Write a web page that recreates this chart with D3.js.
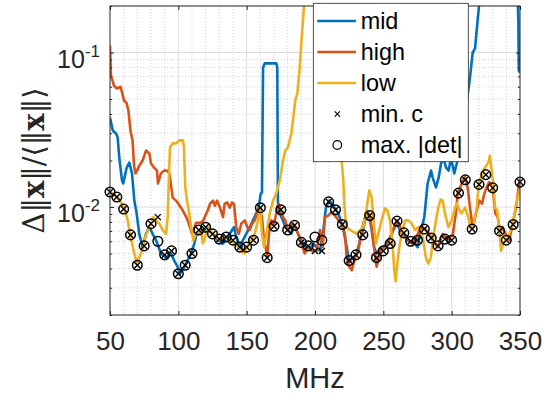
<!DOCTYPE html>
<html lang="en">
<head>
<meta charset="UTF-8">
<title>Relative deviation vs frequency</title>
<script src="https://cdn.jsdelivr.net/npm/d3@7/dist/d3.min.js"></script>
<style>
  body { margin: 0; background: #fff; }
  svg { display: block; font-family: "Liberation Sans", Arial, sans-serif; }
</style>
</head>
<body>
<svg id="chart" width="557" height="394"></svg>
<script>
// series: [MHz, value]
const midData = [
  [50,0.038],[52,0.0313],[54.4,0.0299],[55.6,0.0282],[56.8,0.0209],[58.8,0.0148],[59.7,0.0142],[62.2,0.018],[64.1,0.0194],[66.1,0.0165],[67.8,0.011],[69.5,0.0091],[71.4,0.0067],[73.9,0.0055],[76.3,0.0067],[78.8,0.0074],[81.2,0.0067],[83.7,0.0061],[87.3,0.005],[91,0.0047],[94.6,0.005],[97,0.0045],[99.5,0.0041],[101.2,0.0037],[104.4,0.0041],[105.6,0.0043],[109.3,0.005],[111.7,0.0058],[113.4,0.0067],[117.8,0.0071],[121.7,0.0071],[125.4,0.0067],[129,0.0061],[132.7,0.0058],[136.3,0.0064],[139.3,0.0071],[140.7,0.0074],[142.4,0.0064],[144.9,0.0055],[147.3,0.0061],[149.7,0.0067],[152.2,0.0074],[154.6,0.0082],[157,0.0091],[158.8,0.0099],[160.3,0.0122],[161.2,0.0124],[162,0.08],[163.2,0.085],[171.7,0.085],[172.4,0.08],[172.9,0.0099],[174.2,0.0091],[176.6,0.0082],[178.3,0.0074],[180.2,0.0071],[182.7,0.0067],[184.6,0.0076],[186.3,0.0071],[188.8,0.0064],[191.2,0.0058],[193.6,0.0055],[197.3,0.0055],[198.8,0.0058],[203.7,0.0052],[206.1,0.0071],[208,0.0099],[210.5,0.011],[213.4,0.0102],[215.1,0.0096],[217,0.0091],[219.9,0.0077],[221.4,0.0067],[223.2,0.0055],[225.1,0.0044],[227.6,0.0047],[230,0.0049],[231.7,0.0055],[233.4,0.0064],[235.3,0.0071],[237.8,0.0095],[239.7,0.0088],[241.5,0.0071],[243.2,0.0055],[245.1,0.005],[247.6,0.0054],[250,0.0055],[252.5,0.0058],[254.9,0.0064],[257.4,0.0071],[259.8,0.0078],[262.2,0.0071],[265.1,0.0067],[267.5,0.0061],[270,0.0059],[273.2,0.0058],[275.1,0.0055],[277.6,0.0071],[280,0.0086],[282.4,0.0142],[284.9,0.0172],[286.1,0.0155],[288.5,0.0134],[290.5,0.0155],[292.2,0.0191],[293.9,0.0209],[295.9,0.018],[297.8,0.0172],[299.5,0.0209],[301.9,0.0165],[303.7,0.0191],[305.6,0.0232],[307.6,0.0299],[309.8,0.039],[311.2,0.049],[313.4,0.069],[315.4,0.1],[317.1,0.106],[318.3,0.139],[320,0.2],[321.5,0.3],[347.8,0.3],[348.8,0.161],[349.1,0.0765],[350,0.074]
];
const highData = [
  [50,0.111],[50.7,0.071],[52.9,0.061],[55.1,0.0585],[57.7,0.06],[59.1,0.054],[60.2,0.049],[62.1,0.047],[63.5,0.042],[65,0.031],[66.5,0.027],[67.6,0.0185],[68.7,0.0165],[69.8,0.0172],[71.4,0.0185],[73.9,0.02],[76.3,0.0232],[78.8,0.0222],[80,0.0191],[82.2,0.018],[84.4,0.0172],[85.1,0.0142],[87.3,0.0165],[89.5,0.0172],[91.7,0.0172],[93.4,0.0165],[95.9,0.0115],[98.3,0.011],[102,0.0099],[104.4,0.0091],[106.9,0.0082],[110,0.0067],[112.9,0.0079],[115.9,0.0079],[118,0.0081],[121.5,0.0095],[123.2,0.0105],[125.4,0.011],[126.8,0.0102],[128.3,0.011],[130.5,0.0099],[132.7,0.0086],[133.9,0.0105],[135.8,0.0107],[137.6,0.0099],[139.3,0.0107],[140.7,0.0105],[142.4,0.0074],[144.2,0.0067],[146.1,0.0078],[148.6,0.0082],[150.5,0.0074],[152.2,0.0071],[153.9,0.0078],[155.9,0.0082],[157.8,0.0091],[159.5,0.0099],[161.2,0.0086],[162.7,0.0061],[164.4,0.0052],[165.1,0.0047],[166.3,0.0067],[168,0.0082],[170,0.0078],[171.7,0.0091],[173.4,0.0105],[174.9,0.0096],[176.6,0.0086],[178.3,0.0082],[179.7,0.0071],[181.5,0.0074],[183.9,0.0078],[185.6,0.0074],[187.6,0.0067],[190,0.0058],[192.5,0.005],[194.9,0.0055],[197.3,0.0052],[201.2,0.0052],[203.7,0.0071],[205.6,0.0055],[207.3,0.0086],[209.7,0.0088],[212.2,0.0093],[214.6,0.0088],[217,0.0082],[219.5,0.0078],[221.9,0.0067],[223.2,0.0047],[225.1,0.0041],[226.9,0.0039],[229.3,0.0047],[231.7,0.0052],[233.4,0.0064],[235.3,0.0078],[237.8,0.0093],[239.7,0.0088],[241.5,0.0074],[243.2,0.0055],[245.1,0.0041],[247.6,0.0052],[250.5,0.0055],[252.9,0.0058],[255.4,0.0064],[257.8,0.0074],[259.8,0.0082],[261.7,0.0078],[263.4,0.0067],[265.9,0.0064],[268.3,0.0061],[270.8,0.0058],[272.7,0.0058],[276.3,0.0071],[280,0.0073],[283.6,0.0067],[286.1,0.0061],[289.8,0.0055],[293.4,0.0067],[297.1,0.0062],[300.8,0.0066],[303.2,0.0093],[304.4,0.0122],[308.1,0.0148],[309.8,0.0156],[311.7,0.0134],[313.4,0.0099],[315.4,0.0073],[317.8,0.0091],[320.2,0.011],[322.2,0.0105],[323.9,0.0122],[325.6,0.0134],[327.5,0.0145],[330,0.0134],[331.9,0.0091],[333.7,0.0086],[335.4,0.0069],[337.3,0.0074],[339.8,0.0066],[342.2,0.0061],[344.1,0.0074],[347.1,0.0099],[349.5,0.0145],[350,0.015]
];
const lowData = [
  [50,0.0124],[52.2,0.0122],[55.1,0.0115],[57.3,0.011],[60.5,0.0098],[63,0.0082],[64.6,0.0067],[67.8,0.005],[69.8,0.0043],[71.4,0.0047],[74.4,0.0055],[75.8,0.0064],[78.8,0.0074],[80,0.0078],[81.7,0.0086],[83.7,0.0082],[86.1,0.0078],[88.6,0.0071],[91,0.0067],[92.2,0.0086],[93,0.0148],[93.9,0.0243],[95.9,0.0258],[98.3,0.0258],[100.7,0.027],[103.4,0.027],[104.1,0.0243],[105.1,0.0134],[106.3,0.011],[108,0.0091],[109.3,0.0074],[111,0.0061],[112.9,0.0067],[116.6,0.0071],[118,0.0058],[120.2,0.0067],[121.7,0.0074],[125.4,0.0067],[130.3,0.0061],[133.9,0.0063],[137.6,0.0061],[141.2,0.0058],[143.7,0.0055],[146.1,0.0052],[148,0.005],[150.5,0.0055],[153.4,0.0061],[155.9,0.0067],[158.3,0.0082],[160,0.0099],[161.2,0.0067],[162.7,0.0055],[164.4,0.0067],[166.9,0.0091],[169.3,0.011],[171.7,0.0122],[174.2,0.0148],[176.6,0.02],[178.3,0.0232],[180.2,0.0243],[182.7,0.0299],[185.6,0.049],[187.1,0.0543],[188.8,0.08],[190.5,0.133],[192,0.2],[193.4,0.3],[217.5,0.3],[219.5,0.02],[220.7,0.0148],[221.9,0.0091],[223.2,0.0074],[225.6,0.0071],[230.5,0.0067],[232.9,0.0071],[235.3,0.0074],[237.8,0.0099],[239.7,0.0128],[241.5,0.0115],[242.6,0.0086],[244.6,0.0058],[246.3,0.0067],[248.7,0.0082],[251.2,0.0098],[252.9,0.0095],[254.9,0.0082],[256.9,0.0055],[258,0.0039],[259,0.0033],[260.2,0.0043],[261.7,0.0055],[263.4,0.0067],[265.9,0.0082],[268.3,0.0082],[270.8,0.0078],[273.2,0.0071],[275.6,0.0074],[277.3,0.0071],[279.2,0.0061],[281.2,0.0047],[282.9,0.0043],[284.7,0.0047],[286.6,0.0064],[288.5,0.0082],[290.2,0.0099],[292,0.0112],[293.4,0.011],[295.1,0.0091],[297.6,0.0074],[300,0.0082],[302.4,0.0098],[303.7,0.0106],[305.6,0.0096],[307.3,0.0091],[309.8,0.0099],[312.2,0.0086],[313.9,0.0073],[315.9,0.0076],[318.3,0.0099],[320.2,0.0148],[322,0.016],[324.4,0.018],[326.8,0.0194],[328,0.0215],[329.3,0.0172],[330.5,0.0142],[331.7,0.0099],[333.4,0.0095],[334.9,0.0071],[336.1,0.0052],[337.8,0.0058],[339.8,0.0061],[342.2,0.0067],[344.7,0.0077],[347.1,0.0104],[349.5,0.0127],[350,0.013]
];

// marker positions (every 5 MHz)
const markerFreqs = [50,55,60,65,70,75,80,85,90,95,100,105,110,115,120,125,130,135,140,145,150,155,160,165,170,175,180,185,190,195,200,205,210,215,220,225,230,235,240,245,250,255,260,265,270,275,280,285,290,295,300,305,310,315,320,325,330,335,340,345,350];
const maxDetVals = [0.0125,0.0116,0.0097,0.0066,0.0042,0.0056,0.0078,0.006,0.0049,0.0052,0.0037,0.0042,0.005,0.0071,0.0074,0.0067,0.0062,0.0064,0.0061,0.0055,0.0055,0.0061,0.0099,0.0047,0.0075,0.0096,0.0071,0.0076,0.0059,0.0056,0.0064,0.0061,0.0108,0.0096,0.0077,0.0045,0.0049,0.0066,0.0088,0.0047,0.0052,0.0058,0.0081,0.0068,0.006,0.0061,0.0072,0.0063,0.0056,0.0062,0.0061,0.0123,0.015,0.0072,0.014,0.0162,0.0133,0.007,0.0061,0.0077,0.0145];
const minCVals   = [0.0125,0.0116,0.0097,0.0066,0.0042,0.0056,0.0078,0.0086,0.0049,0.0052,0.0037,0.0042,0.005,0.0071,0.0074,0.0067,0.0062,0.0064,0.0061,0.0055,0.0055,0.0061,0.0099,0.0047,0.0075,0.0096,0.0071,0.0076,0.0059,0.0056,0.0052,0.0052,0.0108,0.0096,0.0077,0.0045,0.0049,0.0066,0.0088,0.0047,0.0052,0.0058,0.0081,0.0068,0.006,0.0061,0.0072,0.0063,0.0056,0.0062,0.0061,0.0123,0.015,0.0072,0.014,0.0162,0.0133,0.007,0.0061,0.0077,0.0145];

const xTicks = [50,100,150,200,250,300,350];
const yTicks = [0.01, 0.1];
const yTickExps = ["-2", "-1"];
const seriesNames = ["mid", "high", "low"];
const seriesColors = ["#0072BD", "#D95319", "#EDB120"];
const markerNames = ["min. c", "max. |det|"];

const svg = d3.select("#chart");
const L = 110, R = 520, T = 6, B = 315;
const ink = "#262626";

const x = d3.scaleLinear().domain([50, 350]).range([L, R]);
const y = d3.scaleLog().domain([0.002, 0.2]).range([B, T]);

// grid
const xMinor = d3.range(60, 350, 10).filter(v => v % 50 !== 0);
const yMinor = y.ticks().filter(v => !yTicks.some(t => Math.abs(t - v) < 1e-9));
const grid = svg.append("g");
grid.selectAll(".gx").data(xMinor).join("line")
  .attr("x1", d => x(d)).attr("x2", d => x(d)).attr("y1", T).attr("y2", B)
  .attr("stroke", "#c2c2c2").attr("stroke-width", 0.7).attr("stroke-dasharray", "1,2");
grid.selectAll(".gy").data(yMinor).join("line")
  .attr("x1", L).attr("x2", R).attr("y1", d => y(d)).attr("y2", d => y(d))
  .attr("stroke", "#c2c2c2").attr("stroke-width", 0.7).attr("stroke-dasharray", "1,2");
grid.selectAll(".mx").data(xTicks.slice(1, -1)).join("line")
  .attr("x1", d => x(d)).attr("x2", d => x(d)).attr("y1", T).attr("y2", B)
  .attr("stroke", "#dcdcdc").attr("stroke-width", 1);
grid.selectAll(".my").data(yTicks).join("line")
  .attr("x1", L).attr("x2", R).attr("y1", d => y(d)).attr("y2", d => y(d))
  .attr("stroke", "#dcdcdc").attr("stroke-width", 1);

// lines
svg.append("clipPath").attr("id", "clip")
  .append("rect").attr("x", L).attr("y", T).attr("width", R - L).attr("height", B - T);

const line = d3.line().x(d => x(d[0])).y(d => y(d[1]));
const plot = svg.append("g").attr("clip-path", "url(#clip)");
[midData, highData, lowData].forEach((data, i) => {
  plot.append("path").datum(data)
    .attr("d", line)
    .attr("fill", "none")
    .attr("stroke", seriesColors[i])
    .attr("stroke-width", 2.6)
    .attr("stroke-linejoin", "round");
});

// markers
const crossPath = s => `M${-s},${-s}L${s},${s}M${-s},${s}L${s},${-s}`;
const marks = svg.append("g");
marks.selectAll(".mc").data(markerFreqs).join("path")
  .attr("transform", (d, i) => `translate(${x(d)},${y(minCVals[i])})`)
  .attr("d", crossPath(3))
  .attr("stroke", "#000").attr("stroke-width", 1.4).attr("fill", "none");
marks.selectAll(".md").data(markerFreqs).join("circle")
  .attr("cx", d => x(d)).attr("cy", (d, i) => y(maxDetVals[i]))
  .attr("r", 4.8)
  .attr("stroke", "#000").attr("stroke-width", 1.5).attr("fill", "none");

// axes (inward ticks, mirrored)
const axes = svg.append("g").attr("color", ink);
axes.append("g").attr("transform", `translate(0,${B})`)
  .call(d3.axisBottom(x).tickValues(xTicks).tickSize(-4).tickPadding(17))
  .call(g => g.select(".domain").remove())
  .call(g => g.selectAll("text").attr("font-size", 26).attr("fill", ink)
    .attr("font-family", "'Liberation Sans', Arial, sans-serif"));
axes.append("g").attr("transform", `translate(0,${T})`)
  .call(d3.axisTop(x).tickValues(xTicks).tickSize(-4).tickFormat(""))
  .call(g => g.select(".domain").remove());
axes.append("g").attr("transform", `translate(${L},0)`)
  .call(d3.axisLeft(y).tickValues(yMinor).tickSize(-2.2).tickFormat(""))
  .call(g => g.select(".domain").remove());
axes.append("g").attr("transform", `translate(${R},0)`)
  .call(d3.axisRight(y).tickValues(yMinor).tickSize(-2.2).tickFormat(""))
  .call(g => g.select(".domain").remove());
axes.append("g").attr("transform", `translate(${L},0)`)
  .call(d3.axisLeft(y).tickValues(yTicks).tickSize(-4).tickFormat(""))
  .call(g => g.select(".domain").remove());
axes.append("g").attr("transform", `translate(${R},0)`)
  .call(d3.axisRight(y).tickValues(yTicks).tickSize(-4).tickFormat(""))
  .call(g => g.select(".domain").remove());

svg.append("rect").attr("x", L).attr("y", T).attr("width", R - L).attr("height", B - T)
  .attr("fill", "none").attr("stroke", ink).attr("stroke-width", 1);

// y tick labels with exponents
yTicks.forEach((t, i) => {
  const txt = svg.append("text")
    .attr("x", L - 10).attr("y", y(t) + 15)
    .attr("text-anchor", "end").attr("fill", ink).attr("font-size", 25);
  txt.append("tspan").text("10");
  txt.append("tspan").attr("dy", -11).attr("font-size", 17).text(yTickExps[i]);
});

// axis labels
svg.append("text").attr("x", (L + R) / 2).attr("y", 388)
  .attr("text-anchor", "middle").attr("fill", ink).attr("font-size", 29).text("MHz");

const yl = svg.append("text")
  .attr("transform", `translate(44,${(T + B) / 2}) rotate(-90)`)
  .attr("text-anchor", "middle").attr("fill", ink).attr("font-size", 29)
  .attr("font-family", "'DejaVu Serif', 'Liberation Serif', serif");
yl.append("tspan").text("\u0394\u2016");
yl.append("tspan").attr("font-weight", "bold").text("x");
yl.append("tspan").text("\u2016/\u27E8\u2016");
yl.append("tspan").attr("font-weight", "bold").text("x");
yl.append("tspan").text("\u2016\u27E9");

// legend
const lg = svg.append("g");
lg.append("rect").attr("x", 313.3).attr("y", 3.3).attr("width", 155).attr("height", 158.4)
  .attr("fill", "#fff").attr("stroke", ink).attr("stroke-width", 0.8);
const rowY = i => 21 + i * 31;
seriesNames.forEach((name, i) => {
  lg.append("line").attr("x1", 317.3).attr("x2", 356).attr("y1", rowY(i)).attr("y2", rowY(i))
    .attr("stroke", seriesColors[i]).attr("stroke-width", 2.6);
  lg.append("text").attr("x", 360.7).attr("y", rowY(i) + 8.3)
    .attr("font-size", 23.4).attr("fill", "#000").text(name);
});
lg.append("path").attr("transform", `translate(337.3,${rowY(3)})`)
  .attr("d", crossPath(2.6)).attr("stroke", "#000").attr("stroke-width", 1.2);
lg.append("circle").attr("cx", 337.3).attr("cy", rowY(4)).attr("r", 4.3)
  .attr("fill", "none").attr("stroke", "#000").attr("stroke-width", 1.2);
markerNames.forEach((name, i) => {
  lg.append("text").attr("x", 360.7).attr("y", rowY(i + 3) + 8.3)
    .attr("font-size", 23.4).attr("fill", "#000").text(name);
});
</script>
</body>
</html>
